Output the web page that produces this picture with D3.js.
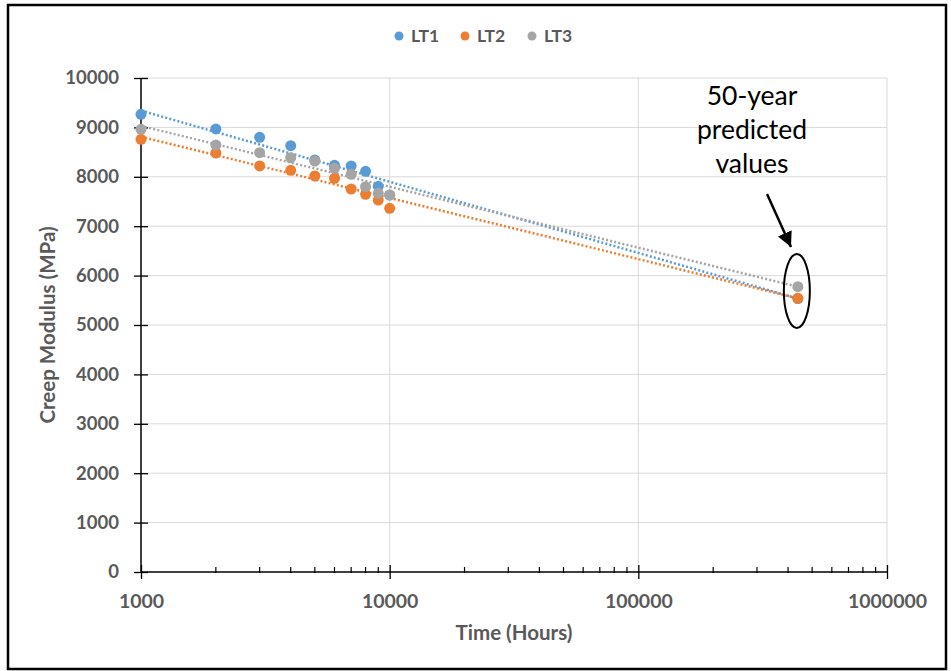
<!DOCTYPE html>
<html><head><meta charset="utf-8">
<script src="https://cdn.jsdelivr.net/npm/d3@7"></script>
<style>body{margin:0;background:#fff;}svg{display:block;}</style>
</head><body>
<svg id="chart" width="951" height="671"></svg>
<script>
const seriesNames = ["LT1", "LT2", "LT3"];
const seriesColors = ["#5B9BD5", "#ED7D31", "#A5A5A5"];
const hours = [1000, 2000, 3000, 4000, 5000, 6000, 7000, 8000, 9000, 10000];
const lt1 = [9265, 8968, 8800, 8630, 8340, 8233, 8219, 8111, 7807, 7630];
const lt2 = [8759, 8482, 8219, 8131, 8016, 7969, 7753, 7646, 7530, 7362];
const lt3 = [8961, 8644, 8489, 8387, 8320, 8172, 8050, 7800, 7665, 7632];
const predictedHours = 438000;
const predicted = [5535, 5540, 5775];
const trendStart = [9340, 8810, 9030];   // trendline value at 1000 h
const trendEnd = [5535, 5540, 5775];     // trendline value at 438000 h
const yTicks = [0,1000,2000,3000,4000,5000,6000,7000,8000,9000,10000];
const xTicks = [1000, 10000, 100000, 1000000];
const xTitle = "Time (Hours)";
const yTitle = "Creep Modulus (MPa)";
const noteLines = ["50-year", "predicted", "values"];

const svg = d3.select("#chart");
const x = d3.scaleLog().domain([1000, 1000000]).range([141, 887]);
const y = d3.scaleLinear().domain([0, 10000]).range([572, 78]);
const FONT = "Lato, 'Open Sans', sans-serif";
const GRAY = "#595959";

// outer border
svg.append("rect").attr("x", 8).attr("y", 5).attr("width", 938).attr("height", 664)
  .attr("fill", "#fff").attr("stroke", "#000").attr("stroke-width", 2.5);

// gridlines
svg.append("g").selectAll("line").data(yTicks.filter(d => d > 0)).join("line")
  .attr("x1", x(1000)).attr("x2", x(1000000)).attr("y1", d => y(d)).attr("y2", d => y(d))
  .attr("stroke", "#D9D9D9").attr("stroke-width", 1);
svg.append("g").selectAll("line").data(xTicks.filter(d => d > 1000)).join("line")
  .attr("x1", d => x(d)).attr("x2", d => x(d)).attr("y1", y(0)).attr("y2", y(10000))
  .attr("stroke", "#D9D9D9").attr("stroke-width", 1);

// y axis
const yAxis = svg.append("g").attr("transform", `translate(${x(1000)},0)`)
  .call(d3.axisLeft(y).tickValues(yTicks).tickSize(7).tickPadding(15).tickFormat(d3.format("d")));
yAxis.select(".domain").attr("stroke", "#000").attr("stroke-width", 1.5).attr("d", `M0,${y(0)}V${y(10000)}`);
yAxis.selectAll(".tick line").attr("stroke", "#000").attr("stroke-width", 1.3).attr("x1", 7).attr("x2", -7);
yAxis.selectAll(".tick text").attr("fill", GRAY).attr("font-family", FONT).attr("font-size", 18.5).attr("font-weight", "bold");

// x axis
const minorTicks = [];
[1000, 10000, 100000].forEach(b => { for (let k = 2; k <= 9; k++) minorTicks.push(b * k); });
const xAxis = svg.append("g").attr("transform", `translate(0,${y(0)})`)
  .call(d3.axisBottom(x).tickValues(xTicks).tickSize(7).tickPadding(15).tickFormat(d3.format("d")));
xAxis.select(".domain").attr("stroke", "#000").attr("stroke-width", 1.5).attr("d", `M${x(1000)},0H${x(1000000)}`);
xAxis.selectAll(".tick line").attr("stroke", "#000").attr("stroke-width", 1.3).attr("y1", -7).attr("y2", 7);
xAxis.selectAll(".tick text").attr("fill", GRAY).attr("font-family", FONT).attr("font-size", 19.5).attr("font-weight", "bold");
svg.append("g").selectAll("line").data(minorTicks).join("line")
  .attr("x1", d => x(d)).attr("x2", d => x(d)).attr("y1", y(0) - 5).attr("y2", y(0) + 1)
  .attr("stroke", "#000").attr("stroke-width", 1.2);

// trendlines
const series = [lt1, lt2, lt3];
seriesNames.forEach((n, i) => {
  svg.append("line")
    .attr("x1", x(1000)).attr("y1", y(trendStart[i]))
    .attr("x2", x(predictedHours)).attr("y2", y(trendEnd[i]))
    .attr("stroke", seriesColors[i]).attr("stroke-width", 2.5)
    .attr("stroke-dasharray", "2,2.2");
});

// points
seriesNames.forEach((n, i) => {
  const pts = hours.map((h, j) => [h, series[i][j]]).concat([[predictedHours, predicted[i]]]);
  svg.append("g").selectAll("circle").data(pts).join("circle")
    .attr("cx", d => x(d[0])).attr("cy", d => y(d[1])).attr("r", 5.5)
    .attr("fill", seriesColors[i]);
});

// legend
const legX = [399, 465, 532];
seriesNames.forEach((n, i) => {
  svg.append("circle").attr("cx", legX[i]).attr("cy", 36).attr("r", 4.5).attr("fill", seriesColors[i]);
  svg.append("text").attr("x", legX[i] + 12).attr("y", 42).text(n)
    .attr("fill", GRAY).attr("font-family", FONT).attr("font-size", 17.5).attr("font-weight", "bold");
});

// axis titles
svg.append("text").attr("x", x(31623)).attr("y", 640).attr("text-anchor", "middle").text(xTitle)
  .attr("fill", GRAY).attr("font-family", FONT).attr("font-size", 20.5).attr("font-weight", "bold");
svg.append("text").attr("transform", `translate(55,${y(5000)}) rotate(-90)`).attr("text-anchor", "middle").text(yTitle)
  .attr("fill", GRAY).attr("font-family", FONT).attr("font-size", 20.5).attr("font-weight", "bold");

// annotation
noteLines.forEach((t, i) => {
  svg.append("text").attr("x", 752).attr("y", 105 + i * 34).attr("text-anchor", "middle").text(t)
    .attr("fill", "#000").attr("font-family", FONT).attr("font-size", 26.5);
});
svg.append("defs").append("marker").attr("id", "ah").attr("viewBox", "0 0 10 10")
  .attr("refX", 10).attr("refY", 5).attr("markerWidth", 6).attr("markerHeight", 6)
  .attr("markerUnits", "strokeWidth").attr("orient", "auto")
  .append("path").attr("d", "M0,0L10,5L0,10Z").attr("fill", "#000");
svg.append("line").attr("x1", 767).attr("y1", 194).attr("x2", 791).attr("y2", 247)
  .attr("stroke", "#000").attr("stroke-width", 2.5).attr("marker-end", "url(#ah)");
svg.append("ellipse").attr("cx", x(predictedHours) - 1).attr("cy", 291).attr("rx", 13).attr("ry", 37)
  .attr("fill", "none").attr("stroke", "#000").attr("stroke-width", 2);
</script>
</body></html>
